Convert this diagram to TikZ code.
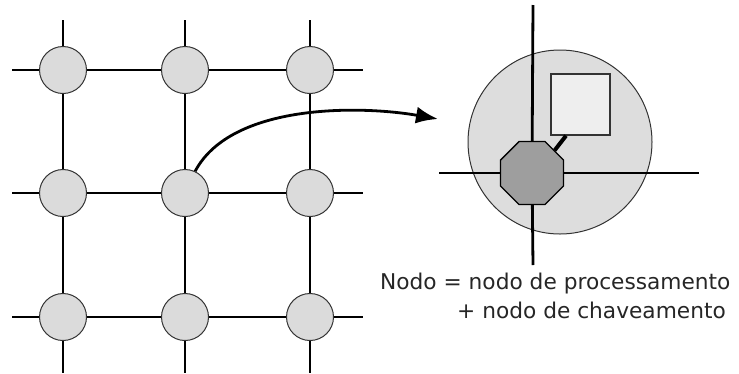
\documentclass[tikz,border=0pt]{standalone}
\usepackage{fontspec}
\setmainfont{DejaVu Sans}
\usetikzlibrary{shapes, arrows.meta, positioning, calc}
\definecolor{nodegray}{HTML}{DBDBDB}
\definecolor{cellgray}{HTML}{DDDDDD}
\definecolor{switchgray}{HTML}{9E9E9E}
\definecolor{procgray}{HTML}{EEEEEE}

\begin{document}
\begin{tikzpicture}[x=1pt, y=-1pt,
  wire/.style={line width=2.8pt},
  gridnode/.style={circle, draw=black!80, line width=1pt, fill=nodegray, minimum size=47pt, inner sep=0pt},
  cellnode/.style={circle, draw=black!80, line width=1pt, fill=cellgray, minimum size=184pt, inner sep=0pt},
  switchnode/.style={regular polygon, regular polygon sides=8, draw=black, line width=1.3pt, fill=switchgray, minimum size=68pt, inner sep=0pt},
  procnode/.style={rectangle, draw=black!80, line width=1.4pt, fill=procgray, minimum width=59pt, minimum height=61pt, inner sep=0pt},
  labeltext/.style={inner sep=0pt, anchor=base west, text=black!85, font=\fontsize{21.7}{26}\selectfont}]
\useasboundingbox (0,0) rectangle (739,373);

% Mesh of nodes
\foreach \c/\x in {1/63,2/185,3/310}
  \foreach \r/\y in {1/70,2/193,3/317}
    \node[gridnode] (n\r\c) at (\x,\y) {};

% free ends of the mesh links
\foreach \c/\x in {1/63,2/185,3/310} {
  \coordinate (top\c) at (\x,20);
  \coordinate (bot\c) at (\x,373);
}
\foreach \r/\y in {1/70,2/193,3/317} {
  \coordinate (lft\r) at (12,\y);
  \coordinate (rgt\r) at (363,\y);
}

\foreach \i in {1,2,3} {
  \draw[wire] (top\i) -- (n1\i) -- (n2\i) -- (n3\i) -- (bot\i);
  \draw[wire] (lft\i) -- (n\i1) -- (n\i2) -- (n\i3) -- (rgt\i);
}

% Zoomed node
\node[cellnode] (cell) at (560,142) {};
\node[switchnode] (sw) at (532,173) {};
\node[procnode] (proc) at (580.5,104.5) {};
\coordinate (vtop) at (533,5);
\coordinate (vbot) at (533,265);
\coordinate (hlft) at (439,173);
\coordinate (hrgt) at (699,173);
\draw[wire] (vtop) -- (sw) -- (vbot);
\draw[wire] (hlft) -- (sw) -- (hrgt);
\draw[line width=4pt] (sw.45) -- ($(proc.south west)!0.26!(proc.south east)$);

% Arrow from the mesh to the zoom
\coordinate (tip) at (438,119);
\draw[line width=2.8pt, -{Latex[length=22pt, width=17pt]}] (n22.65) to[out=62, in=170, looseness=0.8] (tip);

\node[labeltext] (lbl1) at (380,289) {Nodo = nodo de processamento};
\node[labeltext] (lbl2) at (457,318) {+ nodo de chaveamento};

\end{tikzpicture}
\end{document}
